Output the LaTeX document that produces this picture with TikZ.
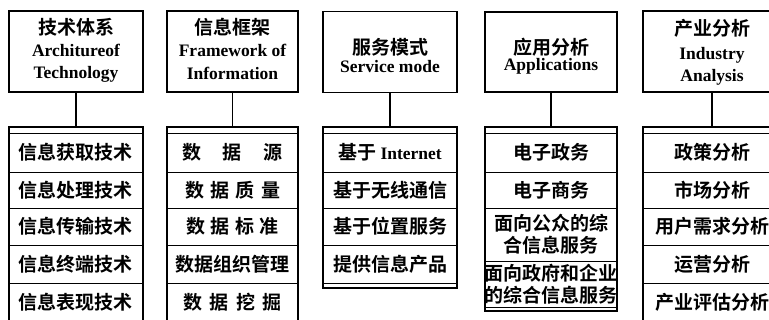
\documentclass[tikz,border=0pt]{standalone}
\usepackage{fontspec}
\newfontfamily\cjk{Noto Sans CJK SC Bold}
\newfontfamily\enf{Liberation Serif}
\newcommand{\zhs}{\cjk\fontsize{19}{22}\selectfont}
\newcommand{\ens}{\enf\bfseries\fontsize{17.5}{20}\selectfont}
\begin{document}
\begin{tikzpicture}[x=1pt,y=-1pt,
  titlebox/.style={draw, line width=1.6pt, inner sep=0pt, minimum width=#1},
  listbox/.style={draw, line width=1.6pt, inner sep=0pt, minimum width=#1},
  rowbox/.style={draw, line width=0.8pt, inner sep=0pt, minimum width=#1, align=center},
  conn/.style={line width=1.6pt},
  zh/.style={anchor=base, inner sep=0pt, font=\zhs},
  en/.style={anchor=base, inner sep=0pt, font=\ens}]
\useasboundingbox (0,0) rectangle (769,320);
\clip (0,0) rectangle (769,320);

% ---------- column 1 ----------
\node[titlebox=134pt, minimum height=81pt] (t1) at (76,51.5) {};
\node[zh] (t1a) at (76,35) {技术体系};
\node[en] (t1b) at (76,57) {Architureof};
\node[en] (t1c) at (76,79) {Technology};
\node[rowbox=134pt, minimum height=39pt, font=\zhs] (r11) at (76,152.5) {信息获取技术};
\node[rowbox=134pt, minimum height=36pt, font=\zhs] (r12) at (76,190) {信息处理技术};
\node[rowbox=134pt, minimum height=37pt, font=\zhs] (r13) at (76,226.5) {信息传输技术};
\node[rowbox=134pt, minimum height=38pt, font=\zhs] (r14) at (76,264) {信息终端技术};
\node[rowbox=134pt, minimum height=39pt, font=\zhs] (r15) at (76,302.5) {信息表现技术};
\node[listbox=134pt, minimum height=200pt] (l1) at (76,227) {};
\draw[conn] (t1.south) -- (l1.north);

% ---------- column 2 ----------
\node[titlebox=131pt, minimum height=81pt] (t2) at (232.5,51.5) {};
\node[zh] (t2a) at (232.5,35) {信息框架};
\node[en] (t2b) at (232.5,57) {Framework of};
\node[en] (t2c) at (232.5,80) {Information};
\node[rowbox=131pt, minimum height=39pt, font=\zhs] (r21) at (232.5,152.5) {\makebox[100pt][s]{数\hfill 据\hfill 源}};
\node[rowbox=131pt, minimum height=36pt, font=\zhs] (r22) at (232.5,190) {\makebox[95pt][s]{数\hfill 据\hfill 质\hfill 量}};
\node[rowbox=131pt, minimum height=37pt, font=\zhs] (r23) at (232.5,226.5) {\makebox[92pt][s]{数\hfill 据\hfill 标\hfill 准}};
\node[rowbox=131pt, minimum height=38pt, font=\zhs] (r24) at (232.5,264) {数据组织管理};
\node[rowbox=131pt, minimum height=39pt, font=\zhs] (r25) at (232.5,302.5) {\makebox[98pt][s]{数\hfill 据\hfill 挖\hfill 掘}};
\node[listbox=131pt, minimum height=200pt] (l2) at (232.5,227) {};
\draw[conn] (t2.south) -- (l2.north);

% ---------- column 3 ----------
\node[titlebox=134pt, minimum height=81pt] (t3) at (390,52) {};
\node[zh] (t3a) at (390,55) {服务模式};
\node[en] (t3b) at (390,73) {Service mode};
\node[rowbox=134pt, minimum height=39pt, font=\zhs] (r31) at (390,152.5) {基于 {\ens Internet}};
\node[rowbox=134pt, minimum height=36pt, font=\zhs] (r32) at (390,190) {基于无线通信};
\node[rowbox=134pt, minimum height=37pt, font=\zhs] (r33) at (390,226.5) {基于位置服务};
\node[rowbox=134pt, minimum height=38pt, font=\zhs] (r34) at (390,264) {提供信息产品};
\node[listbox=134pt, minimum height=161pt] (l3) at (390,207.5) {};
\draw[conn] (t3.south) -- (l3.north);

% ---------- column 4 ----------
\node[titlebox=132pt, minimum height=80pt] (t4) at (551,52) {};
\node[zh] (t4a) at (551,55) {应用分析};
\node[en] (t4b) at (551,71) {Applications};
\node[rowbox=132pt, minimum height=39pt, font=\zhs] (r41) at (551,152.5) {电子政务};
\node[rowbox=132pt, minimum height=36pt, font=\zhs] (r42) at (551,190) {电子商务};
\node[rowbox=132pt, minimum height=53pt, font=\zhs] (r43) at (551,234.5) {面向公众的综\\合信息服务};
\node[rowbox=132pt, minimum height=46pt, font=\zhs] (r44) at (551,284) {面向政府和企业\\的综合信息服务};
\node[listbox=132pt, minimum height=184pt] (l4) at (551,219) {};
\draw[conn] (t4.south) -- (l4.north);

% ---------- column 5 ----------
\node[titlebox=138pt, minimum height=81pt] (t5) at (712,51.5) {};
\node[zh] (t5a) at (712,36) {产业分析};
\node[en] (t5b) at (712,60) {Industry};
\node[en] (t5c) at (712,82) {Analysis};
\node[rowbox=138pt, minimum height=39pt, font=\zhs] (r51) at (712,152.5) {政策分析};
\node[rowbox=138pt, minimum height=36pt, font=\zhs] (r52) at (712,190) {市场分析};
\node[rowbox=138pt, minimum height=37pt, font=\zhs] (r53) at (712,226.5) {用户需求分析};
\node[rowbox=138pt, minimum height=38pt, font=\zhs] (r54) at (712,264) {运营分析};
\node[rowbox=138pt, minimum height=39pt, font=\zhs] (r55) at (712,302.5) {产业评估分析};
\node[listbox=138pt, minimum height=200pt] (l5) at (712,227) {};
\draw[conn] (t5.south) -- (l5.north);
\end{tikzpicture}
\end{document}
